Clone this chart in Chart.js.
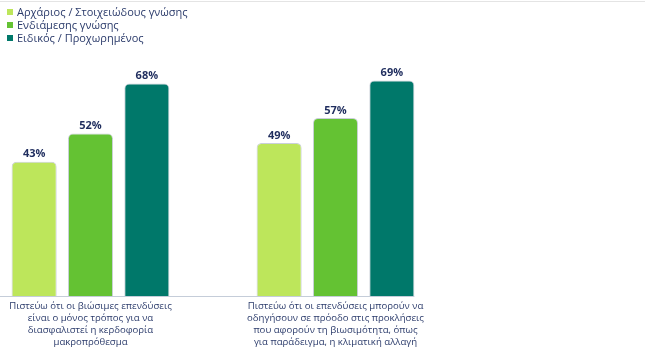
<!DOCTYPE html>
<html>
<head>
<meta charset="utf-8">
<script src="https://cdn.jsdelivr.net/npm/chart.js@4"></script>
<style>
  html, body { margin: 0; padding: 0; background: #fff; overflow: hidden; }
  body { width: 645px; height: 358px; position: relative; font-family: "Open Sans", sans-serif; }
  #topline { position: absolute; left: 0; top: 1px; width: 645px; height: 1px; background: #e4e4e4; }
  #wrap { position: absolute; left: -32px; top: 0; width: 677px; height: 358px; }
  #legend { position: absolute; left: 7px; top: 5px; font-size: 11px; color: #2b3b6b; line-height: 13px; }
  #legend .item { display: flex; align-items: center; white-space: nowrap; }
  #legend .box { width: 6px; height: 6px; margin-right: 4px; }
</style>
</head>
<body>
<div id="topline"></div>
<div id="wrap"><canvas id="chart"></canvas></div>
<div id="legend"></div>
<script>
const categories = [
  ["Πιστεύω ότι οι βιώσιμες επενδύσεις", "είναι ο μόνος τρόπος για να", "διασφαλιστεί η κερδοφορία", "μακροπρόθεσμα"],
  ["Πιστεύω ότι οι επενδύσεις μπορούν να", "οδηγήσουν σε πρόοδο στις προκλήσεις", "που αφορούν τη βιωσιμότητα, όπως", "για παράδειγμα, η κλιματική αλλαγή"]
];
const seriesNames = ["Αρχάριος / Στοιχειώδους γνώσης", "Ενδιάμεσης γνώσης", "Ειδικός / Προχωρημένος"];
const beginnerValues = [43, 49];
const intermediateValues = [52, 57];
const expertValues = [68, 69];
const colors = ["#bde65b", "#64c233", "#00786a"];

// % labels above each bar
const valueLabels = {
  id: "valueLabels",
  afterDatasetsDraw(chart) {
    const ctx = chart.ctx;
    ctx.save();
    ctx.font = 'bold 11px "Open Sans"';
    ctx.fillStyle = "#1f2d5e";
    ctx.textAlign = "center";
    ctx.textBaseline = "bottom";
    chart.data.datasets.forEach((ds, i) => {
      chart.getDatasetMeta(i).data.forEach((bar, j) => {
        ctx.fillText(ds.data[j] + "%", bar.x, bar.y - 2);
      });
    });
    ctx.restore();
  },
};

// base line that stops at the last bar
const baseLine = {
  id: "baseLine",
  afterDatasetsDraw(chart) {
    const { ctx, chartArea } = chart;
    let right = chartArea.left;
    chart.data.datasets.forEach((ds, i) => {
      chart.getDatasetMeta(i).data.forEach((bar) => {
        right = Math.max(right, bar.x + bar.width / 2);
      });
    });
    ctx.save();
    ctx.strokeStyle = "#c5cdd9";
    ctx.lineWidth = 1;
    ctx.beginPath();
    ctx.moveTo(chartArea.left, chartArea.bottom + 0.5);
    ctx.lineTo(right, chartArea.bottom + 0.5);
    ctx.stroke();
    ctx.restore();
  },
};

const allValues = [beginnerValues, intermediateValues, expertValues];
const datasets = allValues.map((vals, i) => ({
  label: seriesNames[i],
  data: vals,
  backgroundColor: colors[i],
  borderColor: "rgba(150,160,180,0.5)",
  borderWidth: { top: 1, left: 1, right: 1, bottom: 0 },
  borderRadius: { topLeft: 5, topRight: 5 },
  borderSkipped: "bottom",
  categoryPercentage: 0.69,
  barPercentage: 0.8,
}));

const ctx = document.getElementById("chart").getContext("2d");
const myChart = new Chart(ctx, {
  type: "bar",
  data: { labels: categories, datasets: datasets },
  plugins: [valueLabels, baseLine],
  options: {
    responsive: true,
    maintainAspectRatio: false,
    animation: false,
    layout: { padding: { left: 0, right: 187, top: 46, bottom: 6 } },
    plugins: {
      legend: { display: false },
      tooltip: { enabled: false },
    },
    scales: {
      x: {
        grid: { display: false },
        border: { display: false },
        afterFit: (scale) => { scale.height += 8; },
        ticks: {
          color: "#2b3b6b",
          font: { family: "Open Sans", size: 9.6, lineHeight: 1.25 },
          padding: -4,
          maxRotation: 0,
          autoSkip: false,
        },
      },
      y: {
        display: false,
        beginAtZero: true,
        min: 0,
        max: 80,
      },
    },
  },
});

const legend = document.getElementById("legend");
seriesNames.forEach((name, i) => {
  const item = document.createElement("div");
  item.className = "item";
  const box = document.createElement("span");
  box.className = "box";
  box.style.background = colors[i];
  const txt = document.createElement("span");
  txt.textContent = name;
  item.appendChild(box);
  item.appendChild(txt);
  legend.appendChild(item);
});
</script>
</body>
</html>
